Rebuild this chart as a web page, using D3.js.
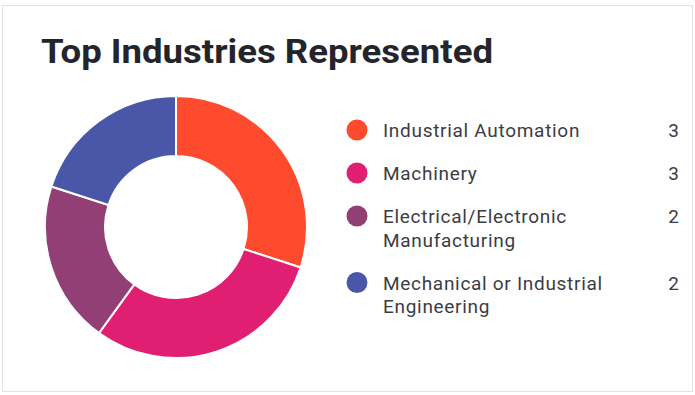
<!DOCTYPE html>
<html>
<head>
<meta charset="utf-8">
<script src="https://cdn.jsdelivr.net/npm/d3@7"></script>
<style>
  body { margin: 0; background: #fff; }
  svg { display: block; }
</style>
</head>
<body>
<svg id="chart"></svg>
<script>
// datos del grafico
const industrias = [
    ["Industrial Automation"],
    ["Machinery"],
    ["Electrical/Electronic", "Manufacturing"],
    ["Mechanical or Industrial", "Engineering"]
];
const conteos = [3, 3, 2, 2];
const colores = ["#fe4b2d", "#e01e72", "#923f76", "#4a57a9"];
const titulo = "Top Industries Represented";

const WIDTH = 695;
const HEIGHT = 395;

const svg = d3.select("#chart")
    .attr("width", WIDTH)
    .attr("height", HEIGHT);

// tarjeta con borde gris
svg.append("rect")
    .attr("x", 2.5).attr("y", 5.5)
    .attr("width", 690).attr("height", 386)
    .attr("fill", "#fff")
    .attr("stroke", "#e2e2e2");

// titulo, ajustado al ancho que tiene en la imagen
svg.append("text")
    .attr("x", 41).attr("y", 63)
    .attr("font-family", "Roboto, sans-serif")
    .attr("font-weight", 700)
    .attr("font-size", 34)
    .attr("fill", "#24242c")
    .attr("textLength", 452)
    .attr("lengthAdjust", "spacingAndGlyphs")
    .text(titulo);

// dona
const datos = industrias.map((d, i) => ({ nombre: d, valor: conteos[i], color: colores[i] }));

const pie = d3.pie().value(d => d.valor).sort(null);
const arco = d3.arc().innerRadius(71).outerRadius(131);

const dona = svg.append("g")
    .attr("transform", "translate(176,227)");

dona.selectAll("path")
    .data(pie(datos))
    .join("path")
    .attr("d", arco)
    .attr("fill", d => d.data.color)
    .attr("stroke", "#fff")
    .attr("stroke-width", 2);

// leyenda: cada fila ocupa mas espacio si tiene dos lineas
const alturaLinea = 23.5;
let y = 130;
const filas = datos.map(d => {
    const fila = { ...d, y: y };
    y += 43 + (d.nombre.length - 1) * alturaLinea;
    return fila;
});

const leyenda = svg.append("g")
    .attr("font-family", "Roboto, sans-serif")
    .attr("font-size", 19)
    .attr("letter-spacing", 0.7)
    .attr("fill", "#3c3c44");

const item = leyenda.selectAll("g")
    .data(filas)
    .join("g")
    .attr("transform", d => `translate(0,${d.y})`);

item.append("circle")
    .attr("cx", 357).attr("cy", 0).attr("r", 10.5)
    .attr("fill", d => d.color);

item.append("text")
    .attr("x", 383)
    .attr("y", 7)
    .selectAll("tspan")
    .data(d => d.nombre)
    .join("tspan")
    .attr("x", 383)
    .attr("dy", (d, i) => i === 0 ? 0 : alturaLinea)
    .text(d => d);

item.append("text")
    .attr("x", 679)
    .attr("y", 7)
    .attr("letter-spacing", 0)
    .attr("text-anchor", "end")
    .text(d => d.valor);
</script>
</body>
</html>
